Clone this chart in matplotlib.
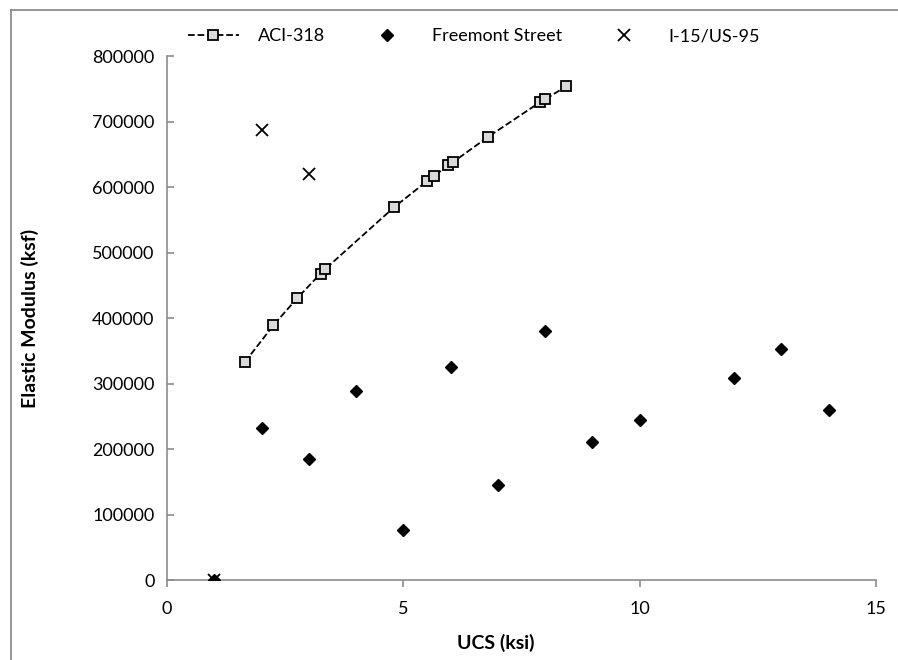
import matplotlib
matplotlib.use("Agg")
import matplotlib.pyplot as plt
from matplotlib.lines import Line2D
from matplotlib.ticker import FuncFormatter

plt.rcParams['font.family'] = ['Lato', 'DejaVu Sans']

# ACI-318 predicted modulus
aci_ucs = [1.65, 2.25, 2.75, 3.25, 3.35, 4.8, 5.5, 5.65, 5.95, 6.05, 6.8, 7.9, 8.0, 8.45]
aci_mod = [333000, 389000, 430000, 468000, 475000, 569000, 609000, 617000,
           633000, 638000, 677000, 730000, 734000, 754000]

# Freemont Street measurements
fs_ucs = [1, 2, 3, 4, 5, 6, 7, 8, 9, 10, 12, 13, 14]
fs_mod = [0, 232000, 185000, 288000, 77000, 325000, 145000, 380000,
          210000, 245000, 308000, 352000, 260000]

# I-15/US-95 measurements
i15_ucs = [1, 2, 3]
i15_mod = [0, 687000, 620000]

x_ticks = [0, 5, 10, 15]
y_ticks = [0, 100000, 200000, 300000, 400000, 500000, 600000, 700000, 800000]

fig = plt.figure(figsize=(8.98, 6.60), dpi=100)
ax = fig.add_axes([0.186, 0.1212, 0.7895, 0.7938])

ax.plot(aci_ucs, aci_mod, color='black', linestyle='--', linewidth=1.3,
        marker='s', markersize=7, markerfacecolor='#d9d9d9', markeredgecolor='black',
        markeredgewidth=1.3, label='ACI-318', zorder=3)
ax.plot(fs_ucs, fs_mod, linestyle='none', marker='D', markersize=6,
        color='black', label='Freemont Street', zorder=4)
ax.plot(i15_ucs, i15_mod, linestyle='none', marker='x', markersize=9,
        markeredgewidth=1.3, color='black', label='I-15/US-95', zorder=4)

ax.set_xlim(0, 15)
ax.set_ylim(0, 800000)
ax.set_xticks(x_ticks)
ax.set_yticks(y_ticks)
ax.yaxis.set_major_formatter(FuncFormatter(lambda v, p: f"{int(v)}"))

for s in ['top', 'right']:
    ax.spines[s].set_visible(False)
for s in ['left', 'bottom']:
    ax.spines[s].set_color('#8c8c8c')
    ax.spines[s].set_linewidth(1.2)
ax.tick_params(axis='both', colors='#8c8c8c', labelcolor='black', labelsize=13,
               length=5, width=1.2)
ax.tick_params(axis='x', direction='out', pad=10)
ax.tick_params(axis='y', direction='in', pad=9)

ax.set_xlabel('UCS (ksi)', fontsize=14, fontweight='bold')
ax.set_ylabel('Elastic Modulus (ksf)', fontsize=14, fontweight='bold')
ax.xaxis.set_label_coords(0.463, -0.103)
ax.yaxis.set_label_coords(-0.18, 0.5)

fig.legend(loc='center left', bbox_to_anchor=(188 / 898, 1 - 36 / 660), ncol=3,
           frameon=False, fontsize=13, handlelength=2.8, columnspacing=2.0,
           handletextpad=1.1, borderpad=0, borderaxespad=0)

# outer chart border (cropped)
fig.add_artist(Line2D([10.5 / 898, 10.5 / 898], [0, 1 - 9.5 / 660],
                      transform=fig.transFigure, color='#8c8c8c', linewidth=1.3))
fig.add_artist(Line2D([10.5 / 898, 1], [1 - 9.5 / 660, 1 - 9.5 / 660],
                      transform=fig.transFigure, color='#8c8c8c', linewidth=1.3))

fig.savefig('out.png', dpi=100)
